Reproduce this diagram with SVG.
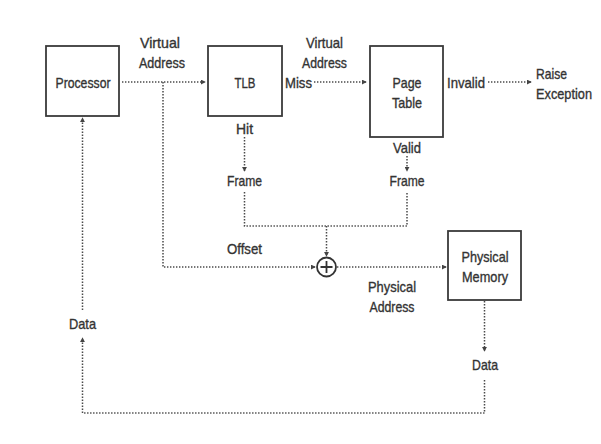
<svg xmlns="http://www.w3.org/2000/svg" width="601" height="444" viewBox="0 0 601 444">
<style>
.box{fill:#fff;stroke:#3a3a3a;stroke-width:1.8}
.t{font-family:"Liberation Sans",Arial,sans-serif;font-size:15px;fill:#333;stroke:#333;stroke-width:0.35;text-anchor:middle}
.tl{font-family:"Liberation Sans",Arial,sans-serif;font-size:15px;fill:#333;stroke:#333;stroke-width:0.35;text-anchor:start}
.c{fill:none;stroke:#4a4a4a;stroke-width:1.5;stroke-dasharray:1.4 1.6}
</style>
<defs>
<marker id="ah" viewBox="0 0 6 6" refX="5" refY="3" markerWidth="5" markerHeight="5" markerUnits="userSpaceOnUse" orient="auto">
<path d="M0,0 L6,3 L0,6 Z" fill="#444"/>
</marker>
</defs>
<rect width="601" height="444" fill="#fff"/>
<g id="processor">
<rect class="box" x="46" y="46" width="73" height="70"/>
<text class="t" x="83" y="87.5" textLength="55" lengthAdjust="spacingAndGlyphs">Processor</text>
</g>
<g id="tlb">
<rect class="box" x="208" y="46" width="74" height="70"/>
<text class="t" x="245" y="87.5" textLength="21" lengthAdjust="spacingAndGlyphs">TLB</text>
</g>
<g id="page-table">
<rect class="box" x="370" y="46" width="73" height="91"/>
<text class="t" x="407" y="87.5" textLength="29" lengthAdjust="spacingAndGlyphs">Page</text>
<text class="t" x="407" y="107.5" textLength="30" lengthAdjust="spacingAndGlyphs">Table</text>
</g>
<g id="physical-memory">
<rect class="box" x="448" y="231" width="73" height="69"/>
<text class="t" x="485" y="261.5" textLength="47" lengthAdjust="spacingAndGlyphs">Physical</text>
<text class="t" x="485" y="281.5" textLength="46" lengthAdjust="spacingAndGlyphs">Memory</text>
</g>
<g id="adder">
<circle cx="326.5" cy="267" r="9.5" fill="#fff" stroke="#333" stroke-width="1.8"/>
<path d="M326.5,261 V273 M320.5,267 H332.5" stroke="#333" stroke-width="1.8"/>
</g>
<g id="labels">
<text class="t" x="160" y="47.5" textLength="40" lengthAdjust="spacingAndGlyphs">Virtual</text>
<text class="t" x="162" y="67.5" textLength="46" lengthAdjust="spacingAndGlyphs">Address</text>
<text class="t" x="324.5" y="47.5" textLength="37" lengthAdjust="spacingAndGlyphs">Virtual</text>
<text class="t" x="324.5" y="67.5" textLength="45" lengthAdjust="spacingAndGlyphs">Address</text>
<text class="tl" x="285" y="87.5" textLength="27" lengthAdjust="spacingAndGlyphs">Miss</text>
<text class="tl" x="447" y="87.5" textLength="38" lengthAdjust="spacingAndGlyphs">Invalid</text>
<text class="tl" x="536" y="78.5" textLength="31" lengthAdjust="spacingAndGlyphs">Raise</text>
<text class="tl" x="536" y="98.5" textLength="56" lengthAdjust="spacingAndGlyphs">Exception</text>
<text class="t" x="244.5" y="133.5" textLength="17" lengthAdjust="spacingAndGlyphs">Hit</text>
<text class="t" x="407" y="152.5" textLength="28" lengthAdjust="spacingAndGlyphs">Valid</text>
<text class="t" x="244.5" y="185.5" textLength="35" lengthAdjust="spacingAndGlyphs">Frame</text>
<text class="t" x="407" y="185.5" textLength="35" lengthAdjust="spacingAndGlyphs">Frame</text>
<text class="t" x="244.5" y="253.5" textLength="35" lengthAdjust="spacingAndGlyphs">Offset</text>
<text class="t" x="392" y="291.5" textLength="48" lengthAdjust="spacingAndGlyphs">Physical</text>
<text class="t" x="392" y="311.5" textLength="45" lengthAdjust="spacingAndGlyphs">Address</text>
<text class="t" x="485" y="369.5" textLength="26" lengthAdjust="spacingAndGlyphs">Data</text>
<text class="t" x="82.5" y="328.5" textLength="27" lengthAdjust="spacingAndGlyphs">Data</text>
</g>
<g id="connectors">
<path class="c" d="M122,82 H205" marker-end="url(#ah)"/>
<path class="c" d="M163,82 V267 H315" marker-end="url(#ah)"/>
<path class="c" d="M314,82 H366" marker-end="url(#ah)"/>
<path class="c" d="M488,82 H531" marker-end="url(#ah)"/>
<path class="c" d="M244.5,137 V171" marker-end="url(#ah)"/>
<path class="c" d="M407,156 V171" marker-end="url(#ah)"/>
<path class="c" d="M244.5,192 V226 H407 V192"/>
<path class="c" d="M326.5,226 V256" marker-end="url(#ah)"/>
<path class="c" d="M337,267 H446" marker-end="url(#ah)"/>
<path class="c" d="M484.5,301 V351" marker-end="url(#ah)"/>
<path class="c" d="M484.5,380 V413 H82.5 V338" marker-end="url(#ah)"/>
<path class="c" d="M82.5,310 V118" marker-end="url(#ah)"/>
</g>
</svg>
